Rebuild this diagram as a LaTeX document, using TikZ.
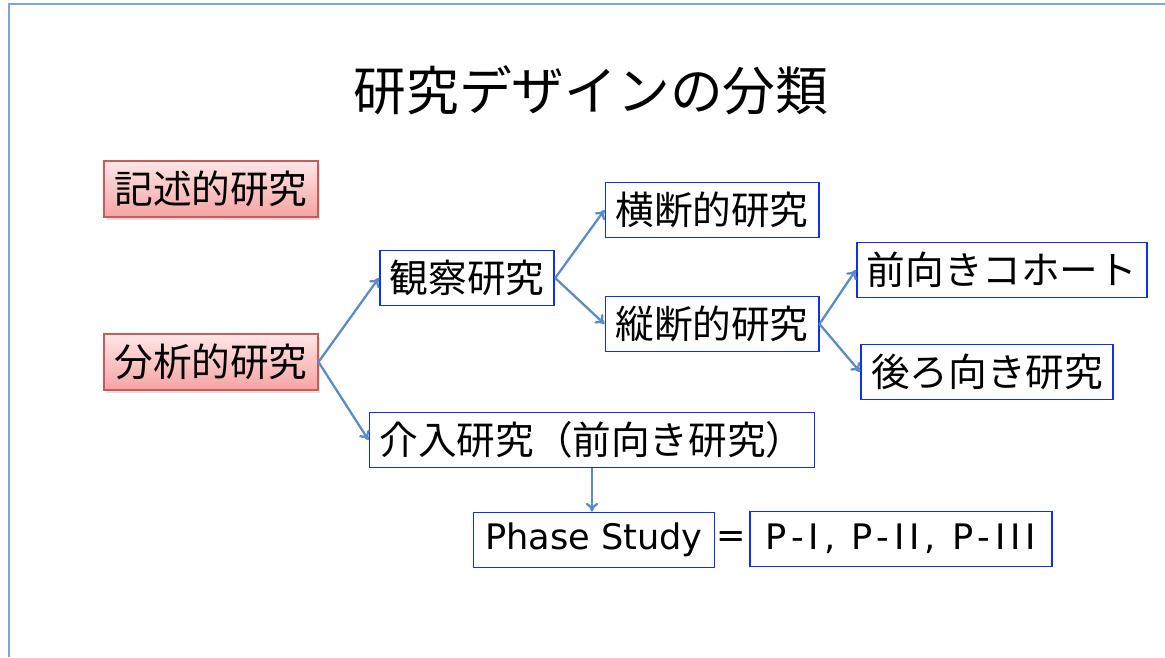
\documentclass[tikz,border=0pt]{standalone}
\usepackage{fontspec}
\setmainfont{Noto Sans CJK JP}
\newfontfamily\latinfont{DejaVu Sans}
\usepackage{tikz}
\usetikzlibrary{arrows.meta,shadows}
\definecolor{frameblue}{HTML}{7BA7DA}
\definecolor{boxblue}{HTML}{1030F0}
\definecolor{arrowblue}{HTML}{5B8CC8}
\definecolor{pinkedge}{HTML}{C85A5A}
\definecolor{pinktop}{HTML}{FFE6E6}
\definecolor{pinkbottom}{HTML}{F5A3A3}

\begin{document}
\begin{tikzpicture}[x=0.02cm, y=-0.02cm,
  study/.style={draw=boxblue, line width=1pt, fill=white, font=\fontsize{22}{25}\selectfont,
    inner xsep=0.2cm, inner ysep=0pt, minimum height=1.1cm},
  kind/.style={draw=pinkedge, line width=1pt, top color=pinktop, bottom color=pinkbottom,
    font=\fontsize{22}{25}\selectfont, inner xsep=0.2cm, inner ysep=0pt, minimum height=1.12cm,
    drop shadow={opacity=0.25, shadow xshift=1.5pt, shadow yshift=-1.5pt}},
  latin/.style={font=\latinfont\fontsize{20}{24}\selectfont},
  link/.style={draw=arrowblue, line width=1.3pt, -{To[length=5pt, width=7pt]}}]

\useasboundingbox (0,0) rectangle (1165,657);

% frame
\draw[frameblue, line width=1.2pt] (1165,4) -- (9,4) -- (9,657);

% title
\node (title) at (591,90) {\fontsize{30}{34}\selectfont 研究デザインの分類};

% boxes

\node[kind] (kijutsu) at (211,189) {記述的研究};
\node[kind] (bunseki) at (211,362) {分析的研究};

\node[study] (kansatsu) at (467,278) {観察研究};
\node[study] (oudan) at (712,210) {横断的研究};
\node[study] (juudan) at (712,324) {縦断的研究};
\node[study] (maemuki) at (1002,270) {前向きコホート};
\node[study] (ushiro) at (987,372) {後ろ向き研究};
\node[study] (kainyu) at (592,440) {介入研究（前向き研究）};

\node[study, latin, inner xsep=0.1cm, minimum width=4.82cm] (phase) at (594,540) {Phase Study};
\node[latin] (eq) at (731,540) {=};
\node[study, latin, minimum width=6.04cm] (plist) at (901,539)
  {\addfontfeature{LetterSpace=14}P-I, P-II, P-III};

% arrows

\draw[link] (bunseki.east) -- (kansatsu.west);
\draw[link] (bunseki.east) -- (kainyu.west);
\draw[link] (kansatsu.east) -- (oudan.west);
\draw[link] (kansatsu.east) -- (juudan.west);
\draw[link] (juudan.east) -- (maemuki.west);
\draw[link] (juudan.east) -- (ushiro.west);
\draw[link] (kainyu.south) -- (kainyu.south |- phase.north);

\end{tikzpicture}
\end{document}
